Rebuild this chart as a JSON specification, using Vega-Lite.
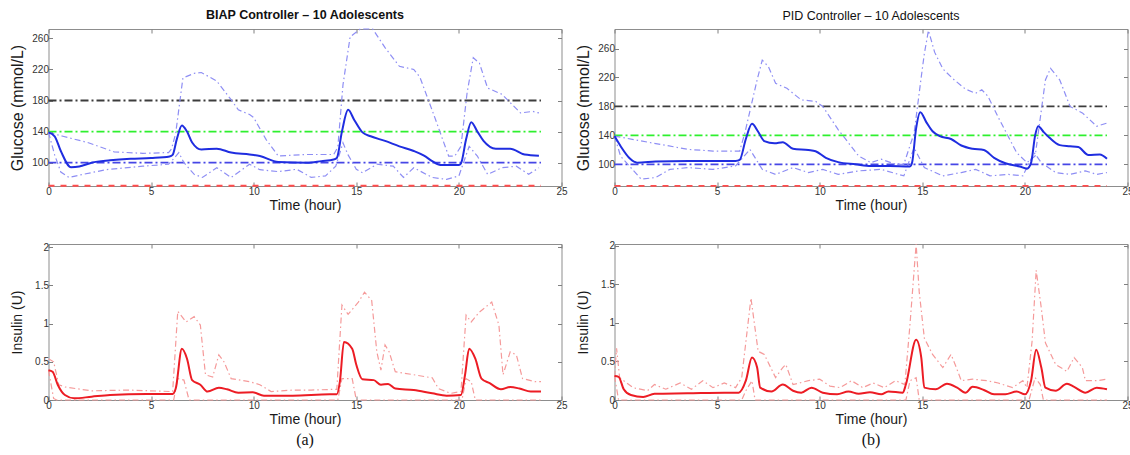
{
  "$schema": "https://vega.github.io/schema/vega-lite/v6.json",
  "background": "white",
  "padding": {"left": 8.5, "top": 8, "right": 0, "bottom": 0},
  "columns": 2,
  "spacing": {"row": 58, "column": 53},
  "bounds": "flush",
  "resolve": {"scale": {"x": "independent", "y": "independent", "color": "independent", "strokeDash": "independent"}},
  "config": {
    "font": "Liberation Sans",
    "view": {"stroke": "#8d8d8d", "strokeWidth": 1},
    "axis": {"domain": false, "grid": false, "tickSize": -4, "tickColor": "#808080", "tickWidth": 1, "labelFontSize": 10, "labelColor": "#333333", "labelPadding": 4, "labelOverlap": false, "labelFlush": false, "titleFontSize": 14, "titleFontWeight": "normal", "titleColor": "#1a1a1a"},
    "axisX": {"titlePadding": 2},
    "axisY": {"titlePadding": 6, "titleFontSize": 16},
    "title": {"fontSize": 12.5, "color": "#111111", "offset": 5.5}
  },
  "datasets": {
    "refs": [
      {"r": "hi", "t": 0, "t2": 24, "v": 180},
      {"r": "target", "t": 0, "t2": 24, "v": 140},
      {"r": "low", "t": 0, "t2": 24, "v": 100},
      {"r": "hypo", "t": 0, "t2": 24, "v": 70.3}
    ],
    "biapG": [
      {"s": "mean", "t": 0, "v": 139}, {"s": "mean", "t": 0.3, "v": 134}, {"s": "mean", "t": 0.6, "v": 115}, {"s": "mean", "t": 1.1, "v": 94}, {"s": "mean", "t": 1.5, "v": 95}, {"s": "mean", "t": 2.1, "v": 100}, {"s": "mean", "t": 3, "v": 103}, {"s": "mean", "t": 4, "v": 105}, {"s": "mean", "t": 5, "v": 106}, {"s": "mean", "t": 5.9, "v": 108}, {"s": "mean", "t": 6.05, "v": 110}, {"s": "mean", "t": 6.25, "v": 130}, {"s": "mean", "t": 6.5, "v": 148}, {"s": "mean", "t": 6.75, "v": 140}, {"s": "mean", "t": 7.0, "v": 126}, {"s": "mean", "t": 7.45, "v": 117}, {"s": "mean", "t": 8.2, "v": 118}, {"s": "mean", "t": 8.9, "v": 113}, {"s": "mean", "t": 9.8, "v": 110.5}, {"s": "mean", "t": 10.3, "v": 108.5}, {"s": "mean", "t": 11.2, "v": 101}, {"s": "mean", "t": 12.6, "v": 100}, {"s": "mean", "t": 13.3, "v": 102}, {"s": "mean", "t": 13.9, "v": 104}, {"s": "mean", "t": 14.05, "v": 106}, {"s": "mean", "t": 14.3, "v": 140}, {"s": "mean", "t": 14.6, "v": 168}, {"s": "mean", "t": 14.9, "v": 155}, {"s": "mean", "t": 15.3, "v": 139}, {"s": "mean", "t": 15.7, "v": 134}, {"s": "mean", "t": 16.4, "v": 128}, {"s": "mean", "t": 17.1, "v": 121}, {"s": "mean", "t": 17.8, "v": 115}, {"s": "mean", "t": 18.3, "v": 109}, {"s": "mean", "t": 18.7, "v": 102}, {"s": "mean", "t": 19.1, "v": 97}, {"s": "mean", "t": 20.0, "v": 97}, {"s": "mean", "t": 20.1, "v": 99}, {"s": "mean", "t": 20.35, "v": 130}, {"s": "mean", "t": 20.6, "v": 152}, {"s": "mean", "t": 20.9, "v": 140}, {"s": "mean", "t": 21.2, "v": 128}, {"s": "mean", "t": 21.8, "v": 118}, {"s": "mean", "t": 22.5, "v": 118}, {"s": "mean", "t": 23.2, "v": 110.5}, {"s": "mean", "t": 23.9, "v": 109},
      {"s": "upper", "t": 0, "v": 139}, {"s": "upper", "t": 0.7, "v": 134}, {"s": "upper", "t": 1.9, "v": 126}, {"s": "upper", "t": 3.2, "v": 114}, {"s": "upper", "t": 4.6, "v": 112}, {"s": "upper", "t": 5.85, "v": 113}, {"s": "upper", "t": 6.0, "v": 118}, {"s": "upper", "t": 6.2, "v": 138}, {"s": "upper", "t": 6.55, "v": 209}, {"s": "upper", "t": 7.1, "v": 215}, {"s": "upper", "t": 7.45, "v": 216}, {"s": "upper", "t": 8.2, "v": 205}, {"s": "upper", "t": 8.9, "v": 181}, {"s": "upper", "t": 9.25, "v": 168}, {"s": "upper", "t": 9.8, "v": 162}, {"s": "upper", "t": 10.0, "v": 158}, {"s": "upper", "t": 10.6, "v": 130}, {"s": "upper", "t": 11.2, "v": 108.5}, {"s": "upper", "t": 11.75, "v": 109.5}, {"s": "upper", "t": 12.6, "v": 110.5}, {"s": "upper", "t": 13.9, "v": 110.5}, {"s": "upper", "t": 14.1, "v": 120}, {"s": "upper", "t": 14.35, "v": 200}, {"s": "upper", "t": 14.7, "v": 262}, {"s": "upper", "t": 15.2, "v": 272}, {"s": "upper", "t": 15.8, "v": 272}, {"s": "upper", "t": 16.4, "v": 248}, {"s": "upper", "t": 17.1, "v": 224}, {"s": "upper", "t": 17.8, "v": 220}, {"s": "upper", "t": 18.1, "v": 210}, {"s": "upper", "t": 18.8, "v": 160}, {"s": "upper", "t": 19.5, "v": 108.5}, {"s": "upper", "t": 19.8, "v": 108.5}, {"s": "upper", "t": 20.1, "v": 121}, {"s": "upper", "t": 20.4, "v": 190}, {"s": "upper", "t": 20.7, "v": 235}, {"s": "upper", "t": 21.0, "v": 228}, {"s": "upper", "t": 21.4, "v": 196}, {"s": "upper", "t": 22.1, "v": 188}, {"s": "upper", "t": 23.0, "v": 164}, {"s": "upper", "t": 23.6, "v": 166}, {"s": "upper", "t": 23.9, "v": 164},
      {"s": "lower", "t": 0, "v": 139}, {"s": "lower", "t": 0.3, "v": 110}, {"s": "lower", "t": 0.6, "v": 88}, {"s": "lower", "t": 1.0, "v": 81}, {"s": "lower", "t": 1.5, "v": 84}, {"s": "lower", "t": 2.8, "v": 91}, {"s": "lower", "t": 4.6, "v": 95.5}, {"s": "lower", "t": 5.85, "v": 98}, {"s": "lower", "t": 6.1, "v": 105}, {"s": "lower", "t": 6.35, "v": 113}, {"s": "lower", "t": 6.6, "v": 100}, {"s": "lower", "t": 7.1, "v": 85}, {"s": "lower", "t": 7.5, "v": 81}, {"s": "lower", "t": 8.2, "v": 93.5}, {"s": "lower", "t": 8.9, "v": 81}, {"s": "lower", "t": 9.8, "v": 98}, {"s": "lower", "t": 10.3, "v": 91}, {"s": "lower", "t": 11.2, "v": 88.5}, {"s": "lower", "t": 12.1, "v": 91.5}, {"s": "lower", "t": 12.8, "v": 81}, {"s": "lower", "t": 13.5, "v": 83}, {"s": "lower", "t": 14.0, "v": 95.5}, {"s": "lower", "t": 14.35, "v": 125.5}, {"s": "lower", "t": 14.6, "v": 110}, {"s": "lower", "t": 15.0, "v": 91.5}, {"s": "lower", "t": 15.3, "v": 87}, {"s": "lower", "t": 16.0, "v": 98}, {"s": "lower", "t": 16.8, "v": 95.5}, {"s": "lower", "t": 17.3, "v": 81}, {"s": "lower", "t": 17.8, "v": 93.5}, {"s": "lower", "t": 18.7, "v": 81}, {"s": "lower", "t": 19.4, "v": 78.5}, {"s": "lower", "t": 20.0, "v": 83}, {"s": "lower", "t": 20.5, "v": 121}, {"s": "lower", "t": 20.9, "v": 108.5}, {"s": "lower", "t": 21.4, "v": 85}, {"s": "lower", "t": 22.1, "v": 93.5}, {"s": "lower", "t": 22.8, "v": 95.5}, {"s": "lower", "t": 23.4, "v": 85}, {"s": "lower", "t": 23.9, "v": 93.5}
    ],
    "pidG": [
      {"s": "mean", "t": 0, "v": 139}, {"s": "mean", "t": 0.3, "v": 125}, {"s": "mean", "t": 0.75, "v": 108}, {"s": "mean", "t": 1.1, "v": 102.3}, {"s": "mean", "t": 2, "v": 103.7}, {"s": "mean", "t": 3.6, "v": 104.6}, {"s": "mean", "t": 5.9, "v": 104.6}, {"s": "mean", "t": 6.1, "v": 106}, {"s": "mean", "t": 6.4, "v": 135}, {"s": "mean", "t": 6.7, "v": 156}, {"s": "mean", "t": 7.0, "v": 145}, {"s": "mean", "t": 7.3, "v": 132}, {"s": "mean", "t": 7.8, "v": 129}, {"s": "mean", "t": 8.2, "v": 130.5}, {"s": "mean", "t": 8.7, "v": 121.5}, {"s": "mean", "t": 9.45, "v": 119.7}, {"s": "mean", "t": 9.8, "v": 118}, {"s": "mean", "t": 10.3, "v": 109}, {"s": "mean", "t": 10.9, "v": 103}, {"s": "mean", "t": 11.75, "v": 100}, {"s": "mean", "t": 12.5, "v": 97.7}, {"s": "mean", "t": 13.4, "v": 97.7}, {"s": "mean", "t": 14.4, "v": 97}, {"s": "mean", "t": 14.5, "v": 102}, {"s": "mean", "t": 14.7, "v": 150}, {"s": "mean", "t": 14.9, "v": 172}, {"s": "mean", "t": 15.2, "v": 158}, {"s": "mean", "t": 15.5, "v": 145.7}, {"s": "mean", "t": 15.85, "v": 139}, {"s": "mean", "t": 16.4, "v": 135}, {"s": "mean", "t": 16.9, "v": 126}, {"s": "mean", "t": 17.45, "v": 121.5}, {"s": "mean", "t": 18, "v": 119.7}, {"s": "mean", "t": 18.5, "v": 109}, {"s": "mean", "t": 19.05, "v": 101.4}, {"s": "mean", "t": 19.75, "v": 97}, {"s": "mean", "t": 20.1, "v": 94}, {"s": "mean", "t": 20.3, "v": 102}, {"s": "mean", "t": 20.5, "v": 140}, {"s": "mean", "t": 20.65, "v": 152.6}, {"s": "mean", "t": 20.9, "v": 145}, {"s": "mean", "t": 21.2, "v": 136.6}, {"s": "mean", "t": 21.7, "v": 126.5}, {"s": "mean", "t": 22.2, "v": 125}, {"s": "mean", "t": 22.6, "v": 123.8}, {"s": "mean", "t": 23.1, "v": 112.8}, {"s": "mean", "t": 23.65, "v": 113.7}, {"s": "mean", "t": 24.0, "v": 107.8},
      {"s": "upper", "t": 0, "v": 139}, {"s": "upper", "t": 1.8, "v": 129.7}, {"s": "upper", "t": 3.6, "v": 120.6}, {"s": "upper", "t": 4.8, "v": 118.3}, {"s": "upper", "t": 6.1, "v": 118.3}, {"s": "upper", "t": 6.35, "v": 143}, {"s": "upper", "t": 6.95, "v": 216.6}, {"s": "upper", "t": 7.2, "v": 244}, {"s": "upper", "t": 7.5, "v": 235}, {"s": "upper", "t": 7.85, "v": 212}, {"s": "upper", "t": 8.4, "v": 205}, {"s": "upper", "t": 9.1, "v": 189}, {"s": "upper", "t": 9.8, "v": 187}, {"s": "upper", "t": 10.15, "v": 180}, {"s": "upper", "t": 10.9, "v": 148}, {"s": "upper", "t": 11.9, "v": 111.4}, {"s": "upper", "t": 12.5, "v": 102.3}, {"s": "upper", "t": 13, "v": 107}, {"s": "upper", "t": 13.7, "v": 100}, {"s": "upper", "t": 14.1, "v": 100}, {"s": "upper", "t": 14.6, "v": 143}, {"s": "upper", "t": 14.95, "v": 221}, {"s": "upper", "t": 15.1, "v": 253}, {"s": "upper", "t": 15.3, "v": 285}, {"s": "upper", "t": 15.6, "v": 255}, {"s": "upper", "t": 16.0, "v": 232}, {"s": "upper", "t": 16.5, "v": 218}, {"s": "upper", "t": 17.1, "v": 204}, {"s": "upper", "t": 17.6, "v": 198}, {"s": "upper", "t": 17.9, "v": 203}, {"s": "upper", "t": 18.2, "v": 194}, {"s": "upper", "t": 18.7, "v": 165}, {"s": "upper", "t": 19.6, "v": 116}, {"s": "upper", "t": 20.1, "v": 102.3}, {"s": "upper", "t": 20.5, "v": 111.4}, {"s": "upper", "t": 21.0, "v": 216.6}, {"s": "upper", "t": 21.25, "v": 232.6}, {"s": "upper", "t": 21.7, "v": 216.6}, {"s": "upper", "t": 22.2, "v": 180}, {"s": "upper", "t": 22.8, "v": 171}, {"s": "upper", "t": 23.5, "v": 152.6}, {"s": "upper", "t": 24.0, "v": 157},
      {"s": "lower", "t": 0, "v": 139}, {"s": "lower", "t": 0.3, "v": 111}, {"s": "lower", "t": 1.3, "v": 79.4}, {"s": "lower", "t": 2, "v": 81.7}, {"s": "lower", "t": 2.7, "v": 93}, {"s": "lower", "t": 3.6, "v": 95.4}, {"s": "lower", "t": 4.8, "v": 93}, {"s": "lower", "t": 5.9, "v": 97.7}, {"s": "lower", "t": 6.6, "v": 120.6}, {"s": "lower", "t": 7.2, "v": 93}, {"s": "lower", "t": 7.85, "v": 86}, {"s": "lower", "t": 8.7, "v": 95.4}, {"s": "lower", "t": 9.45, "v": 88.6}, {"s": "lower", "t": 10.15, "v": 93}, {"s": "lower", "t": 10.9, "v": 86}, {"s": "lower", "t": 11.9, "v": 90.9}, {"s": "lower", "t": 13, "v": 93}, {"s": "lower", "t": 14.1, "v": 84}, {"s": "lower", "t": 14.6, "v": 122.9}, {"s": "lower", "t": 15.1, "v": 95.4}, {"s": "lower", "t": 16, "v": 84}, {"s": "lower", "t": 16.9, "v": 88.6}, {"s": "lower", "t": 17.6, "v": 93}, {"s": "lower", "t": 18.3, "v": 84}, {"s": "lower", "t": 19.2, "v": 86}, {"s": "lower", "t": 19.9, "v": 84}, {"s": "lower", "t": 20.45, "v": 116}, {"s": "lower", "t": 20.8, "v": 102.3}, {"s": "lower", "t": 21.5, "v": 88.6}, {"s": "lower", "t": 22.2, "v": 86}, {"s": "lower", "t": 22.95, "v": 90.9}, {"s": "lower", "t": 23.5, "v": 86}, {"s": "lower", "t": 24, "v": 88.6}
    ],
    "biapI": [
      {"s": "mean", "t": 0, "v": 0.39}, {"s": "mean", "t": 0.2, "v": 0.37}, {"s": "mean", "t": 0.45, "v": 0.2}, {"s": "mean", "t": 0.8, "v": 0.065}, {"s": "mean", "t": 1.25, "v": 0.022}, {"s": "mean", "t": 2.1, "v": 0.043}, {"s": "mean", "t": 3, "v": 0.065}, {"s": "mean", "t": 4.8, "v": 0.078}, {"s": "mean", "t": 6.05, "v": 0.078}, {"s": "mean", "t": 6.2, "v": 0.15}, {"s": "mean", "t": 6.5, "v": 0.67}, {"s": "mean", "t": 6.75, "v": 0.54}, {"s": "mean", "t": 7.0, "v": 0.26}, {"s": "mean", "t": 7.4, "v": 0.2}, {"s": "mean", "t": 7.75, "v": 0.11}, {"s": "mean", "t": 8.3, "v": 0.16}, {"s": "mean", "t": 8.7, "v": 0.14}, {"s": "mean", "t": 9.25, "v": 0.096}, {"s": "mean", "t": 9.95, "v": 0.1}, {"s": "mean", "t": 10.5, "v": 0.057}, {"s": "mean", "t": 11.9, "v": 0.057}, {"s": "mean", "t": 13.7, "v": 0.074}, {"s": "mean", "t": 14.05, "v": 0.074}, {"s": "mean", "t": 14.2, "v": 0.24}, {"s": "mean", "t": 14.4, "v": 0.76}, {"s": "mean", "t": 14.8, "v": 0.67}, {"s": "mean", "t": 15.0, "v": 0.46}, {"s": "mean", "t": 15.3, "v": 0.27}, {"s": "mean", "t": 15.85, "v": 0.26}, {"s": "mean", "t": 16.2, "v": 0.2}, {"s": "mean", "t": 16.55, "v": 0.21}, {"s": "mean", "t": 16.9, "v": 0.15}, {"s": "mean", "t": 17.8, "v": 0.13}, {"s": "mean", "t": 18.7, "v": 0.087}, {"s": "mean", "t": 19.4, "v": 0.057}, {"s": "mean", "t": 20.1, "v": 0.065}, {"s": "mean", "t": 20.3, "v": 0.33}, {"s": "mean", "t": 20.5, "v": 0.67}, {"s": "mean", "t": 20.8, "v": 0.54}, {"s": "mean", "t": 21.1, "v": 0.28}, {"s": "mean", "t": 21.5, "v": 0.22}, {"s": "mean", "t": 22.05, "v": 0.14}, {"s": "mean", "t": 22.5, "v": 0.17}, {"s": "mean", "t": 22.95, "v": 0.15}, {"s": "mean", "t": 23.5, "v": 0.11}, {"s": "mean", "t": 24, "v": 0.11},
      {"s": "upper", "t": 0, "v": 0.54}, {"s": "upper", "t": 0.25, "v": 0.5}, {"s": "upper", "t": 0.5, "v": 0.2}, {"s": "upper", "t": 0.8, "v": 0.17}, {"s": "upper", "t": 2.1, "v": 0.12}, {"s": "upper", "t": 3.9, "v": 0.13}, {"s": "upper", "t": 6.05, "v": 0.11}, {"s": "upper", "t": 6.3, "v": 1.16}, {"s": "upper", "t": 6.7, "v": 1.02}, {"s": "upper", "t": 7.1, "v": 1.09}, {"s": "upper", "t": 7.4, "v": 0.98}, {"s": "upper", "t": 7.65, "v": 0.33}, {"s": "upper", "t": 8.0, "v": 0.3}, {"s": "upper", "t": 8.3, "v": 0.59}, {"s": "upper", "t": 8.55, "v": 0.5}, {"s": "upper", "t": 8.9, "v": 0.28}, {"s": "upper", "t": 9.8, "v": 0.24}, {"s": "upper", "t": 10.3, "v": 0.2}, {"s": "upper", "t": 10.85, "v": 0.11}, {"s": "upper", "t": 11.9, "v": 0.13}, {"s": "upper", "t": 12.8, "v": 0.13}, {"s": "upper", "t": 14.05, "v": 0.14}, {"s": "upper", "t": 14.3, "v": 1.24}, {"s": "upper", "t": 14.6, "v": 1.12}, {"s": "upper", "t": 15.1, "v": 1.28}, {"s": "upper", "t": 15.4, "v": 1.41}, {"s": "upper", "t": 15.75, "v": 1.3}, {"s": "upper", "t": 16.0, "v": 0.63}, {"s": "upper", "t": 16.2, "v": 0.39}, {"s": "upper", "t": 16.4, "v": 0.72}, {"s": "upper", "t": 16.6, "v": 0.63}, {"s": "upper", "t": 16.9, "v": 0.37}, {"s": "upper", "t": 17.8, "v": 0.33}, {"s": "upper", "t": 18.7, "v": 0.29}, {"s": "upper", "t": 19.0, "v": 0.15}, {"s": "upper", "t": 19.6, "v": 0.087}, {"s": "upper", "t": 20.1, "v": 0.11}, {"s": "upper", "t": 20.35, "v": 1.11}, {"s": "upper", "t": 20.6, "v": 1.02}, {"s": "upper", "t": 21.0, "v": 1.15}, {"s": "upper", "t": 21.6, "v": 1.28}, {"s": "upper", "t": 21.95, "v": 0.98}, {"s": "upper", "t": 22.15, "v": 0.33}, {"s": "upper", "t": 22.5, "v": 0.63}, {"s": "upper", "t": 22.8, "v": 0.59}, {"s": "upper", "t": 23.1, "v": 0.28}, {"s": "upper", "t": 23.7, "v": 0.24}, {"s": "upper", "t": 24, "v": 0.24},
      {"s": "lower", "t": 0, "v": 0.39}, {"s": "lower", "t": 0.25, "v": 0.02}, {"s": "lower", "t": 0.4, "v": 0}, {"s": "lower", "t": 6.1, "v": 0}, {"s": "lower", "t": 6.3, "v": 0.28}, {"s": "lower", "t": 6.6, "v": 0.26}, {"s": "lower", "t": 6.85, "v": 0}, {"s": "lower", "t": 14.1, "v": 0}, {"s": "lower", "t": 14.3, "v": 0.28}, {"s": "lower", "t": 14.8, "v": 0.28}, {"s": "lower", "t": 15.0, "v": 0}, {"s": "lower", "t": 20.15, "v": 0}, {"s": "lower", "t": 20.35, "v": 0.28}, {"s": "lower", "t": 20.6, "v": 0.24}, {"s": "lower", "t": 20.8, "v": 0}, {"s": "lower", "t": 24, "v": 0}
    ],
    "pidI": [
      {"s": "mean", "t": 0, "v": 0.31}, {"s": "mean", "t": 0.2, "v": 0.3}, {"s": "mean", "t": 0.45, "v": 0.14}, {"s": "mean", "t": 0.8, "v": 0.065}, {"s": "mean", "t": 1.4, "v": 0.04}, {"s": "mean", "t": 1.95, "v": 0.08}, {"s": "mean", "t": 3.55, "v": 0.086}, {"s": "mean", "t": 5.35, "v": 0.095}, {"s": "mean", "t": 6.05, "v": 0.095}, {"s": "mean", "t": 6.4, "v": 0.25}, {"s": "mean", "t": 6.7, "v": 0.55}, {"s": "mean", "t": 6.95, "v": 0.42}, {"s": "mean", "t": 7.1, "v": 0.16}, {"s": "mean", "t": 7.65, "v": 0.11}, {"s": "mean", "t": 8.2, "v": 0.2}, {"s": "mean", "t": 8.7, "v": 0.12}, {"s": "mean", "t": 9.1, "v": 0.095}, {"s": "mean", "t": 9.6, "v": 0.16}, {"s": "mean", "t": 10.15, "v": 0.095}, {"s": "mean", "t": 10.85, "v": 0.073}, {"s": "mean", "t": 11.4, "v": 0.11}, {"s": "mean", "t": 11.9, "v": 0.08}, {"s": "mean", "t": 12.45, "v": 0.1}, {"s": "mean", "t": 13, "v": 0.073}, {"s": "mean", "t": 13.35, "v": 0.11}, {"s": "mean", "t": 14.05, "v": 0.095}, {"s": "mean", "t": 14.2, "v": 0.2}, {"s": "mean", "t": 14.7, "v": 0.78}, {"s": "mean", "t": 14.95, "v": 0.55}, {"s": "mean", "t": 15.1, "v": 0.16}, {"s": "mean", "t": 15.65, "v": 0.14}, {"s": "mean", "t": 16.2, "v": 0.21}, {"s": "mean", "t": 16.7, "v": 0.16}, {"s": "mean", "t": 17.1, "v": 0.095}, {"s": "mean", "t": 17.45, "v": 0.17}, {"s": "mean", "t": 18, "v": 0.13}, {"s": "mean", "t": 18.5, "v": 0.073}, {"s": "mean", "t": 19.05, "v": 0.073}, {"s": "mean", "t": 19.6, "v": 0.11}, {"s": "mean", "t": 20.0, "v": 0.073}, {"s": "mean", "t": 20.3, "v": 0.25}, {"s": "mean", "t": 20.55, "v": 0.65}, {"s": "mean", "t": 20.8, "v": 0.42}, {"s": "mean", "t": 21.0, "v": 0.16}, {"s": "mean", "t": 21.5, "v": 0.12}, {"s": "mean", "t": 22.05, "v": 0.21}, {"s": "mean", "t": 22.4, "v": 0.17}, {"s": "mean", "t": 22.95, "v": 0.095}, {"s": "mean", "t": 23.5, "v": 0.16}, {"s": "mean", "t": 24, "v": 0.14},
      {"s": "upper", "t": 0, "v": 0.3}, {"s": "upper", "t": 0.1, "v": 0.67}, {"s": "upper", "t": 0.25, "v": 0.29}, {"s": "upper", "t": 0.9, "v": 0.16}, {"s": "upper", "t": 1.6, "v": 0.12}, {"s": "upper", "t": 1.95, "v": 0.2}, {"s": "upper", "t": 2.5, "v": 0.14}, {"s": "upper", "t": 3.2, "v": 0.22}, {"s": "upper", "t": 3.75, "v": 0.14}, {"s": "upper", "t": 4.3, "v": 0.25}, {"s": "upper", "t": 4.8, "v": 0.16}, {"s": "upper", "t": 5.35, "v": 0.22}, {"s": "upper", "t": 5.9, "v": 0.16}, {"s": "upper", "t": 6.2, "v": 0.29}, {"s": "upper", "t": 6.65, "v": 1.32}, {"s": "upper", "t": 7.0, "v": 0.63}, {"s": "upper", "t": 7.3, "v": 0.59}, {"s": "upper", "t": 7.85, "v": 0.29}, {"s": "upper", "t": 8.2, "v": 0.42}, {"s": "upper", "t": 8.35, "v": 0.46}, {"s": "upper", "t": 8.7, "v": 0.2}, {"s": "upper", "t": 9.45, "v": 0.25}, {"s": "upper", "t": 10, "v": 0.27}, {"s": "upper", "t": 10.5, "v": 0.18}, {"s": "upper", "t": 11, "v": 0.16}, {"s": "upper", "t": 11.55, "v": 0.25}, {"s": "upper", "t": 12.1, "v": 0.16}, {"s": "upper", "t": 12.6, "v": 0.22}, {"s": "upper", "t": 13.15, "v": 0.16}, {"s": "upper", "t": 13.7, "v": 0.25}, {"s": "upper", "t": 14.15, "v": 0.2}, {"s": "upper", "t": 14.4, "v": 0.98}, {"s": "upper", "t": 14.7, "v": 2.02}, {"s": "upper", "t": 14.85, "v": 1.4}, {"s": "upper", "t": 15.1, "v": 0.8}, {"s": "upper", "t": 15.5, "v": 0.59}, {"s": "upper", "t": 16, "v": 0.42}, {"s": "upper", "t": 16.4, "v": 0.59}, {"s": "upper", "t": 16.6, "v": 0.46}, {"s": "upper", "t": 16.9, "v": 0.25}, {"s": "upper", "t": 17.45, "v": 0.27}, {"s": "upper", "t": 18.15, "v": 0.25}, {"s": "upper", "t": 18.7, "v": 0.22}, {"s": "upper", "t": 19.4, "v": 0.16}, {"s": "upper", "t": 19.9, "v": 0.25}, {"s": "upper", "t": 20.1, "v": 0.16}, {"s": "upper", "t": 20.35, "v": 0.76}, {"s": "upper", "t": 20.55, "v": 1.68}, {"s": "upper", "t": 20.8, "v": 1.19}, {"s": "upper", "t": 21, "v": 0.74}, {"s": "upper", "t": 21.5, "v": 0.46}, {"s": "upper", "t": 22.05, "v": 0.37}, {"s": "upper", "t": 22.4, "v": 0.55}, {"s": "upper", "t": 22.8, "v": 0.42}, {"s": "upper", "t": 22.95, "v": 0.25}, {"s": "upper", "t": 23.5, "v": 0.25}, {"s": "upper", "t": 24, "v": 0.27},
      {"s": "lower", "t": 0, "v": 0.31}, {"s": "lower", "t": 0.2, "v": 0}, {"s": "lower", "t": 6.2, "v": 0}, {"s": "lower", "t": 6.4, "v": 0.12}, {"s": "lower", "t": 6.7, "v": 0.25}, {"s": "lower", "t": 6.85, "v": 0}, {"s": "lower", "t": 14.2, "v": 0}, {"s": "lower", "t": 14.4, "v": 0.25}, {"s": "lower", "t": 14.7, "v": 0.29}, {"s": "lower", "t": 14.85, "v": 0}, {"s": "lower", "t": 20.2, "v": 0}, {"s": "lower", "t": 20.5, "v": 0.29}, {"s": "lower", "t": 20.75, "v": 0.2}, {"s": "lower", "t": 20.9, "v": 0}, {"s": "lower", "t": 24, "v": 0}
    ]
  },
  "concat": [
    {
      "width": 513, "height": 157,
      "title": {"text": "BIAP Controller – 10 Adolescents", "fontWeight": "bold"},
      "resolve": {"axis": {"x": "independent", "y": "independent"}},
      "layer": [
        {
          "encoding": {
            "x": {"field": "t", "type": "quantitative", "scale": {"domain": [0, 25], "nice": false, "zero": false}, "axis": {"title": "Time (hour)", "values": [0, 5, 10, 15, 20, 25], "format": "d"}},
            "y": {"field": "v", "type": "quantitative", "scale": {"domain": [70, 272], "nice": false, "zero": false}, "axis": {"title": "Glucose (mmol/L)", "values": [100, 140, 180, 220, 260], "format": "d"}}
          },
          "layer": [
            {"data": {"name": "refs"}, "mark": {"type": "rule", "strokeWidth": 1.8},
             "encoding": {"x2": {"field": "t2"},
               "color": {"field": "r", "type": "nominal", "scale": {"domain": ["hi", "target", "low", "hypo"], "range": ["#3c3c3c", "#2ef02e", "#4646e6", "#ff4d4d"]}, "legend": null},
               "strokeDash": {"field": "r", "type": "nominal", "scale": {"domain": ["hi", "target", "low", "hypo"], "range": [[8, 3, 2, 3], [8, 3, 2, 3], [8, 3, 2, 3], [6, 6]]}, "legend": null}}},
            {"data": {"name": "biapG"}, "transform": [{"filter": "datum.s == 'upper'"}], "mark": {"type": "line", "color": "#8e8ef4", "strokeWidth": 1.2, "strokeDash": [6, 3, 1.5, 3]}},
            {"data": {"name": "biapG"}, "transform": [{"filter": "datum.s == 'lower'"}], "mark": {"type": "line", "color": "#8e8ef4", "strokeWidth": 1.2, "strokeDash": [6, 3, 1.5, 3]}},
            {"data": {"name": "biapG"}, "transform": [{"filter": "datum.s == 'mean'"}], "mark": {"type": "line", "color": "#1f2de0", "strokeWidth": 2, "interpolate": "monotone"}}
          ]
        },
        {
          "data": {"name": "refs"},
          "mark": {"type": "rule", "opacity": 0},
          "encoding": {
            "x": {"field": "t", "type": "quantitative", "scale": {"domain": [0, 25], "nice": false, "zero": false}, "axis": {"orient": "top", "labels": false, "title": null, "values": [0, 5, 10, 15, 20, 25]}},
            "y": {"field": "v", "type": "quantitative", "scale": {"domain": [70, 272], "nice": false, "zero": false}, "axis": {"orient": "right", "labels": false, "title": null, "values": [100, 140, 180, 220, 260]}}
          }
        }
      ]
    },
    {
      "width": 513, "height": 157,
      "title": {"text": "PID Controller – 10 Adolescents", "fontWeight": "normal"},
      "resolve": {"axis": {"x": "independent", "y": "independent"}},
      "layer": [
        {
          "encoding": {
            "x": {"field": "t", "type": "quantitative", "scale": {"domain": [0, 25], "nice": false, "zero": false}, "axis": {"title": "Time (hour)", "values": [0, 5, 10, 15, 20, 25], "format": "d"}},
            "y": {"field": "v", "type": "quantitative", "scale": {"domain": [70, 287], "nice": false, "zero": false}, "axis": {"title": "Glucose (mmol/L)", "values": [100, 140, 180, 220, 260], "format": "d"}}
          },
          "layer": [
            {"data": {"name": "refs"}, "mark": {"type": "rule", "strokeWidth": 1.8},
             "encoding": {"x2": {"field": "t2"},
               "color": {"field": "r", "type": "nominal", "scale": {"domain": ["hi", "target", "low", "hypo"], "range": ["#3c3c3c", "#2ef02e", "#4646e6", "#ff4d4d"]}, "legend": null},
               "strokeDash": {"field": "r", "type": "nominal", "scale": {"domain": ["hi", "target", "low", "hypo"], "range": [[8, 3, 2, 3], [8, 3, 2, 3], [8, 3, 2, 3], [6, 6]]}, "legend": null}}},
            {"data": {"name": "pidG"}, "transform": [{"filter": "datum.s == 'upper'"}], "mark": {"type": "line", "color": "#8e8ef4", "strokeWidth": 1.2, "strokeDash": [6, 3, 1.5, 3]}},
            {"data": {"name": "pidG"}, "transform": [{"filter": "datum.s == 'lower'"}], "mark": {"type": "line", "color": "#8e8ef4", "strokeWidth": 1.2, "strokeDash": [6, 3, 1.5, 3]}},
            {"data": {"name": "pidG"}, "transform": [{"filter": "datum.s == 'mean'"}], "mark": {"type": "line", "color": "#1f2de0", "strokeWidth": 2, "interpolate": "monotone"}}
          ]
        },
        {
          "data": {"name": "refs"},
          "mark": {"type": "rule", "opacity": 0},
          "encoding": {
            "x": {"field": "t", "type": "quantitative", "scale": {"domain": [0, 25], "nice": false, "zero": false}, "axis": {"orient": "top", "labels": false, "title": null, "values": [0, 5, 10, 15, 20, 25]}},
            "y": {"field": "v", "type": "quantitative", "scale": {"domain": [70, 287], "nice": false, "zero": false}, "axis": {"orient": "right", "labels": false, "title": null, "values": [100, 140, 180, 220, 260]}}
          }
        }
      ]
    },
    {
      "width": 513, "height": 156,
      "title": {"text": "(a)", "orient": "bottom", "font": "Liberation Serif", "fontSize": 16, "fontWeight": "normal", "offset": 6},
      "resolve": {"axis": {"x": "independent", "y": "independent"}},
      "layer": [
        {
          "encoding": {
            "x": {"field": "t", "type": "quantitative", "scale": {"domain": [0, 25], "nice": false, "zero": false}, "axis": {"title": "Time (hour)", "values": [0, 5, 10, 15, 20, 25], "format": "d"}},
            "y": {"field": "v", "type": "quantitative", "scale": {"domain": [0, 2.04], "nice": false, "zero": false}, "axis": {"title": "Insulin (U)", "titleFontSize": 14, "titlePadding": 10, "values": [0, 0.5, 1, 1.5, 2], "format": "~g"}}
          },
          "layer": [
            {"data": {"name": "biapI"}, "transform": [{"filter": "datum.s == 'upper'"}], "mark": {"type": "line", "color": "#f59a9a", "strokeWidth": 1.2, "strokeDash": [6, 3, 1.5, 3]}},
            {"data": {"name": "biapI"}, "transform": [{"filter": "datum.s == 'lower'"}], "mark": {"type": "line", "color": "#f59a9a", "strokeWidth": 1.2, "strokeDash": [6, 3, 1.5, 3]}},
            {"data": {"name": "biapI"}, "transform": [{"filter": "datum.s == 'mean'"}], "mark": {"type": "line", "color": "#ec1c24", "strokeWidth": 2, "interpolate": "monotone"}}
          ]
        },
        {
          "data": {"name": "biapI"},
          "transform": [{"filter": "datum.s == 'mean'"}],
          "mark": {"type": "line", "opacity": 0},
          "encoding": {
            "x": {"field": "t", "type": "quantitative", "scale": {"domain": [0, 25], "nice": false, "zero": false}, "axis": {"orient": "top", "labels": false, "title": null, "values": [0, 5, 10, 15, 20, 25]}},
            "y": {"field": "v", "type": "quantitative", "scale": {"domain": [0, 2.04], "nice": false, "zero": false}, "axis": {"orient": "right", "labels": false, "title": null, "values": [0, 0.5, 1, 1.5, 2]}}
          }
        }
      ]
    },
    {
      "width": 513, "height": 156,
      "title": {"text": "(b)", "orient": "bottom", "font": "Liberation Serif", "fontSize": 16, "fontWeight": "normal", "offset": 6},
      "resolve": {"axis": {"x": "independent", "y": "independent"}},
      "layer": [
        {
          "encoding": {
            "x": {"field": "t", "type": "quantitative", "scale": {"domain": [0, 25], "nice": false, "zero": false}, "axis": {"title": "Time (hour)", "values": [0, 5, 10, 15, 20, 25], "format": "d"}},
            "y": {"field": "v", "type": "quantitative", "scale": {"domain": [0, 2.02], "nice": false, "zero": false}, "axis": {"title": "Insulin (U)", "titleFontSize": 14, "titlePadding": 10, "values": [0, 0.5, 1, 1.5, 2], "format": "~g"}}
          },
          "layer": [
            {"data": {"name": "pidI"}, "transform": [{"filter": "datum.s == 'upper'"}], "mark": {"type": "line", "color": "#f59a9a", "strokeWidth": 1.2, "strokeDash": [6, 3, 1.5, 3], "clip": true}},
            {"data": {"name": "pidI"}, "transform": [{"filter": "datum.s == 'lower'"}], "mark": {"type": "line", "color": "#f59a9a", "strokeWidth": 1.2, "strokeDash": [6, 3, 1.5, 3]}},
            {"data": {"name": "pidI"}, "transform": [{"filter": "datum.s == 'mean'"}], "mark": {"type": "line", "color": "#ec1c24", "strokeWidth": 2, "interpolate": "monotone"}}
          ]
        },
        {
          "data": {"name": "pidI"},
          "transform": [{"filter": "datum.s == 'mean'"}],
          "mark": {"type": "line", "opacity": 0},
          "encoding": {
            "x": {"field": "t", "type": "quantitative", "scale": {"domain": [0, 25], "nice": false, "zero": false}, "axis": {"orient": "top", "labels": false, "title": null, "values": [0, 5, 10, 15, 20, 25]}},
            "y": {"field": "v", "type": "quantitative", "scale": {"domain": [0, 2.02], "nice": false, "zero": false}, "axis": {"orient": "right", "labels": false, "title": null, "values": [0, 0.5, 1, 1.5, 2]}}
          }
        }
      ]
    }
  ]
}
